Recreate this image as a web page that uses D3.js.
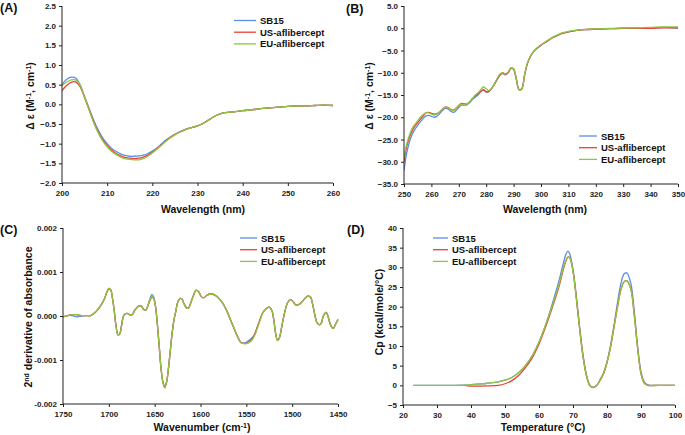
<!DOCTYPE html>
<html><head><meta charset="utf-8">
<script src="https://cdn.jsdelivr.net/npm/d3@7"></script>
<style>
body{margin:0;background:#fff;}
svg{display:block;font-family:"Liberation Sans",Arial,sans-serif;}
.tick text{font-size:8px;font-weight:bold;fill:#222;}
.ttl{font-size:10.5px;font-weight:bold;fill:#111;}
.lab{font-size:12.5px;font-weight:bold;fill:#111;}
.leg{font-size:9.5px;font-weight:bold;fill:#111;}
</style></head><body>
<svg id="c" width="685" height="435"></svg>
<script>
const seriesNames = ["SB15","US-aflibercept","EU-aflibercept"];
const colors = ["#5b8ee6","#e8412f","#8fc641"];

// Panel A: far-UV CD
const A_x = [200,201,202,203,204,205,206,207,208,209,210,211,212,213,214,215,216,217,218,219,220,221,222,223,224,225,226,227,228,229,230,231,232,233,234,235,236,237,238,240,242,244,246,248,250,252,254,256,258,260];
const A_sb15 = [0.50,0.63,0.69,0.67,0.50,0.20,-0.10,-0.40,-0.65,-0.85,-1.00,-1.12,-1.20,-1.26,-1.30,-1.32,-1.32,-1.31,-1.29,-1.25,-1.19,-1.11,-1.01,-0.91,-0.83,-0.76,-0.70,-0.65,-0.61,-0.58,-0.55,-0.50,-0.43,-0.36,-0.29,-0.24,-0.21,-0.20,-0.19,-0.16,-0.14,-0.11,-0.09,-0.07,-0.05,-0.04,-0.04,-0.03,-0.02,-0.03];
const A_us = [0.35,0.48,0.56,0.57,0.45,0.17,-0.13,-0.44,-0.70,-0.90,-1.05,-1.17,-1.25,-1.31,-1.35,-1.37,-1.38,-1.37,-1.34,-1.29,-1.22,-1.13,-1.03,-0.93,-0.84,-0.77,-0.71,-0.66,-0.61,-0.58,-0.55,-0.50,-0.43,-0.36,-0.29,-0.24,-0.21,-0.20,-0.19,-0.16,-0.14,-0.11,-0.09,-0.07,-0.05,-0.04,-0.04,-0.03,-0.02,-0.03];
const A_eu = [0.48,0.56,0.62,0.62,0.48,0.18,-0.14,-0.46,-0.72,-0.93,-1.08,-1.20,-1.28,-1.34,-1.38,-1.40,-1.41,-1.41,-1.38,-1.32,-1.24,-1.14,-1.04,-0.94,-0.85,-0.78,-0.71,-0.66,-0.62,-0.58,-0.55,-0.50,-0.43,-0.36,-0.29,-0.24,-0.21,-0.20,-0.19,-0.16,-0.14,-0.11,-0.09,-0.07,-0.05,-0.04,-0.04,-0.03,-0.02,-0.03];
const A_yticks = [2.5,2.0,1.5,1.0,0.5,0.0,-0.5,-1.0,-1.5,-2.0];
const A_xticks = [200,210,220,230,240,250,260];

// Panel B: near-UV CD
const B_x = [250,251,252,253,254,255,256,257,258,259,260,261,262,263,264,265,266,267,268,269,270,271,272,273,274,275,276,277,278,279,280,281,282,283,284,285,286,287,288,289,290,291,292,293,294,295,296,297,298,300,302,304,306,308,310,313,316,320,325,330,335,340,345,350];
const B_sb15 = [-32,-28,-25.5,-23.8,-22.7,-21.8,-21,-20.3,-19.7,-19.6,-19.8,-20,-19.8,-19.2,-18.5,-18,-18.1,-18.6,-18.9,-18.5,-17.8,-17.3,-17.3,-17.2,-16.7,-16,-15.5,-15,-14.2,-13.8,-14.3,-14.2,-13.5,-12.5,-11.5,-10.5,-10.2,-10.5,-10,-9,-9.2,-11.5,-13.8,-13.5,-10.5,-8,-6.5,-5.5,-4.8,-3.8,-3,-2.2,-1.6,-1.1,-0.8,-0.5,-0.3,-0.2,-0.1,0,0,0.1,0.2,0];
const B_us = [-30,-26.5,-24.5,-23,-22,-21.2,-20.4,-19.7,-19,-18.9,-19.1,-19.3,-19.2,-18.8,-18.2,-17.7,-17.8,-18.2,-18.4,-18,-17.3,-16.9,-17,-17,-16.5,-15.8,-15.2,-14.8,-14.2,-13.9,-14.3,-14.2,-13.5,-12.6,-11.5,-10.5,-10,-10.3,-10,-9,-9.2,-11.5,-13.8,-13.6,-10.6,-8,-6.5,-5.5,-4.8,-3.8,-3,-2.2,-1.6,-1.1,-0.8,-0.5,-0.3,-0.2,-0.1,0,0,0,0.1,0.1];
const B_eu = [-29,-26,-24,-22.5,-21.6,-20.8,-20,-19.4,-19,-19,-19.3,-19.5,-19.3,-18.8,-18.2,-17.8,-17.9,-18.3,-18.5,-18,-17.3,-17,-17.2,-17,-16.5,-15.8,-15,-14.5,-13.8,-13.2,-13.6,-14,-13.5,-12.5,-11.3,-10.3,-10,-10.2,-9.8,-8.9,-9.1,-11.3,-13.9,-13.7,-10.5,-7.9,-6.4,-5.4,-4.7,-3.7,-2.9,-2.1,-1.5,-1.0,-0.7,-0.45,-0.25,-0.15,-0.05,0.05,0.1,0.2,0.3,0.3];
const B_yticks = [5,0,-5,-10,-15,-20,-25,-30,-35];
const B_xticks = [250,260,270,280,290,300,310,320,330,340,350];

// Panel C: FTIR 2nd derivative
const C_x = [1750,1745,1740,1735,1730,1725,1720,1715,1710,1705,1702,1700,1698,1696,1694,1692,1690,1688,1686,1684,1682,1680,1678,1676,1674,1672,1668,1665,1662,1660,1658,1655,1653,1651,1649,1647,1645,1643,1641,1639,1637,1635,1633,1631,1629,1627,1625,1622,1620,1618,1615,1613,1611,1608,1605,1602,1600,1598,1596,1593,1590,1587,1584,1580,1576,1572,1568,1564,1560,1556,1553,1550,1547,1544,1541,1538,1535,1532,1528,1525,1522,1520,1518,1516,1514,1511,1508,1505,1502,1499,1496,1492,1489,1486,1483,1480,1478,1475,1473,1470,1468,1466,1463,1461,1459,1457,1455,1453,1450];
const C_sb15 = [-0.00002,0.00001,0.00001,-0.00002,0.00000,0.00001,0.00001,0.00008,0.0002,0.00038,0.00055,0.00062,0.0006,0.0004,0.0001,-0.00025,-0.00043,-0.0004,-0.0002,0,0.00005,0.00006,0.00004,0.00002,0.00004,0.00012,0.00022,0.00023,0.00015,0.00013,0.0002,0.0004,0.00049,0.00043,0.00022,-0.0002,-0.0007,-0.0012,-0.0015,-0.0016,-0.0015,-0.0012,-0.0008,-0.0004,-0.0001,0.0001,0.0003,0.0004,0.00038,0.00028,0.00018,0.00018,0.00028,0.00045,0.00058,0.00055,0.00047,0.00042,0.00042,0.00047,0.0005,0.0005,0.00047,0.0004,0.0003,0.00015,-0.00005,-0.00025,-0.00045,-0.0006,-0.00062,-0.0006,-0.00055,-0.0005,-0.00042,-0.00025,-0.00008,0.00008,0.00017,0.0002,0.00012,-0.0001,-0.0004,-0.00055,-0.0005,-0.0002,0.0001,0.0003,0.00037,0.00033,0.00025,0.00027,0.00033,0.0004,0.00045,0.00043,0.0003,0.0,-0.00015,-0.0002,-0.00015,0.0,0.00008,0.0,-0.00015,-0.00025,-0.00028,-0.0002,-0.00008];
const C_us = [-0.00002,0.00001,0.00003,0.00003,0.00001,0.00001,0.00001,0.00008,0.0002,0.00038,0.00055,0.00062,0.0006,0.0004,0.0001,-0.00025,-0.00043,-0.0004,-0.0002,0,0.00005,0.00006,0.00004,0.00002,0.00004,0.00012,0.00022,0.00023,0.00015,0.00013,0.0002,0.00036,0.00043,0.00039,0.0002,-0.0002,-0.0007,-0.0012,-0.0015,-0.00163,-0.0015,-0.0012,-0.0008,-0.0004,-0.0001,0.0001,0.0003,0.0004,0.00038,0.00028,0.00018,0.00018,0.00028,0.00045,0.00058,0.00055,0.00047,0.00042,0.00042,0.00047,0.0005,0.0005,0.00047,0.0004,0.0003,0.00015,-0.00005,-0.00025,-0.00045,-0.0006,-0.00062,-0.00062,-0.00058,-0.00052,-0.00042,-0.00025,-0.00008,0.00008,0.00017,0.0002,0.00012,-0.0001,-0.0004,-0.00055,-0.0005,-0.0002,0.0001,0.0003,0.00037,0.00033,0.00025,0.00027,0.00033,0.0004,0.00045,0.00043,0.0003,0.0,-0.00015,-0.0002,-0.00015,0.0,0.00008,0.0,-0.00015,-0.00025,-0.00028,-0.0002,-0.00008];
const C_eu = [-0.00002,0.00001,0.00003,0.00003,0.00001,0.00001,0.00001,0.00008,0.0002,0.00038,0.00055,0.00063,0.0006,0.0004,0.0001,-0.00025,-0.00043,-0.0004,-0.0002,0,0.00005,0.00006,0.00004,0.00002,0.00004,0.00012,0.00022,0.00023,0.00015,0.00013,0.0002,0.00038,0.00045,0.0004,0.0002,-0.0002,-0.0007,-0.0012,-0.0015,-0.00162,-0.0015,-0.0012,-0.0008,-0.0004,-0.0001,0.0001,0.0003,0.0004,0.00038,0.00028,0.00018,0.00018,0.00028,0.00045,0.00059,0.00055,0.00047,0.00042,0.00042,0.00047,0.0005,0.0005,0.00047,0.0004,0.0003,0.00015,-0.00005,-0.00025,-0.00045,-0.0006,-0.00063,-0.00063,-0.0006,-0.00055,-0.00045,-0.00028,-0.0001,0.00007,0.00017,0.0002,0.00012,-0.0001,-0.0004,-0.00056,-0.0005,-0.0002,0.0001,0.0003,0.00037,0.00033,0.00025,0.00027,0.00033,0.0004,0.00045,0.00043,0.0003,0.0,-0.00015,-0.0002,-0.00015,0.0,0.00008,0.0,-0.00015,-0.00025,-0.00028,-0.0002,-0.00008];
const C_yticks = [0.002,0.001,0.000,-0.001,-0.002];
const C_ylabels = ["0.002","0.001","0.000","-0.001","-0.002"];
const C_xticks = [1750,1700,1650,1600,1550,1500,1450];

// Panel D: DSC
const D_x = [23,25,30,35,38,40,43,45,48,50,52,54,56,58,60,62,64,66,67,68,68.5,69,70,71,72,73,74,75,76,77,78,79,80,81,82,83,84,85,85.8,87,88,89,90,91,92,95,100];
const D_sb15 = [0,0,0,0,0.05,0.15,0.35,0.55,0.9,1.3,2.0,3.2,5.0,7.5,11,15.5,21,27,30.5,33.5,34.1,33.5,29.5,22.5,14.5,7.5,2.5,0,-0.5,0,1.5,3.2,6,10,15,20.5,25.5,28.3,28.6,26,19,10,3.5,0.8,0.1,0,0];
const D_us = [null,null,null,null,0,-0.2,-0.2,-0.15,0,0.4,1.2,2.5,4.5,7,10.5,15,20,25.5,29,31.8,32.6,32.5,29,22,14,7,2.3,-0.2,-0.6,0,1.3,3,5.8,9.5,14.5,19.5,24,26.3,26.6,24.5,18,9.5,3,0.5,0,0,0];
const D_eu = [0,0,0,0,0.05,0.15,0.35,0.55,0.9,1.3,2.0,3.2,5.0,7.5,11,15.5,20.5,26,29.5,32,32.6,32.5,29,22,14,7,2.3,-0.1,-0.5,0,1.3,3,5.8,9.5,14.5,19.5,24,26.3,26.6,24.5,18,9.5,3,0.5,0,0,0];
const D_yticks = [40,35,30,25,20,15,10,5,0,-5];
const D_xticks = [20,30,40,50,60,70,80,90,100];

const svg = d3.select("#c");

function panel(cfg){
  const g = svg.append("g");
  const x = d3.scaleLinear().domain(cfg.xdom).range([cfg.x0,cfg.x1]);
  const y = d3.scaleLinear().domain(cfg.ydom).range([cfg.y1,cfg.y0]);
  const line = d3.line().defined(d=>d[1]!==null).x(d=>x(d[0])).y(d=>y(d[1])).curve(d3.curveCatmullRom);
  const clip = "clip"+cfg.id;
  g.append("clipPath").attr("id",clip).append("rect")
    .attr("x",cfg.x0).attr("y",cfg.y0-2).attr("width",cfg.x1-cfg.x0+2).attr("height",cfg.y1-cfg.y0+2);
  cfg.series.forEach((s,i)=>{
    g.append("path").datum(cfg.xs.map((v,j)=>[v,s[j]]))
      .attr("d",line).attr("fill","none").attr("stroke",colors[i])
      .attr("stroke-width",1.3).attr("clip-path","url(#"+clip+")");
  });
  const ya = d3.axisLeft(y).tickValues(cfg.yticks).tickSize(3).tickPadding(3)
    .tickFormat((d,i)=>cfg.ylabels?cfg.ylabels[i]:d3.format(cfg.yfmt)(d));
  const yg = g.append("g").attr("transform",`translate(${cfg.x0},0)`).call(ya);
  const xa = d3.axisBottom(x).tickValues(cfg.xticks).tickSize(3).tickPadding(4).tickFormat(d3.format("d"));
  const xg = g.append("g").attr("transform",`translate(0,${cfg.y1})`).call(xa);
  [yg,xg].forEach(a=>{a.selectAll("path,line").attr("stroke","#222").attr("stroke-width",1);a.select(".domain").attr("d",null);});
  yg.select(".domain").remove(); xg.select(".domain").remove();
  g.append("line").attr("x1",cfg.x0).attr("x2",cfg.x0).attr("y1",cfg.y0).attr("y2",cfg.y1).attr("stroke","#222");
  g.append("line").attr("x1",cfg.x0).attr("x2",cfg.x1).attr("y1",cfg.y1).attr("y2",cfg.y1).attr("stroke","#222");
  // titles
  const xt = g.append("text").attr("class","ttl").attr("text-anchor","middle")
    .attr("x",cfg.xtx).attr("y",cfg.xty);
  cfg.xtitle.forEach(p=>{const t=xt.append("tspan").text(p[0]); if(p[1]) t.attr("baseline-shift","super").style("font-size","7px");});
  const yt = g.append("text").attr("class","ttl").attr("text-anchor","middle")
    .attr("transform",`translate(${cfg.ytx},${cfg.yty}) rotate(-90)`);
  cfg.ytitle.forEach(p=>{const t=yt.append("tspan").text(p[0]); if(p[1]) t.attr("baseline-shift","super").style("font-size","7px");});
  g.append("text").attr("class","lab").attr("x",cfg.lx).attr("y",cfg.ly).text(cfg.label);
  // legend
  seriesNames.forEach((n,i)=>{
    const yy = cfg.legy + i*11.7;
    g.append("line").attr("x1",cfg.legx).attr("x2",cfg.legx+cfg.legw).attr("y1",yy).attr("y2",yy)
      .attr("stroke",colors[i]).attr("stroke-width",1.3);
    g.append("text").attr("class","leg").attr("x",cfg.legx+cfg.legw+4).attr("y",yy+3.5).text(n);
  });
}

panel({id:"A",xdom:[200,260],ydom:[-2,2.5],x0:62,x1:333,y0:6,y1:183,xs:A_x,series:[A_sb15,A_us,A_eu],
  yticks:A_yticks,xticks:A_xticks,yfmt:".1f",label:"(A)",lx:0,ly:12,
  xtitle:[["Wavelength (nm)"]],xtx:203,xty:213,
  ytitle:[["Δ ε (M"],["-1",1],[", cm"],["-1",1],[")"]],ytx:34,yty:96,
  legx:234,legy:20.5,legw:22});
panel({id:"B",xdom:[250,350],ydom:[-35,5],x0:404,x1:678,y0:6,y1:184,xs:B_x,series:[B_sb15,B_us,B_eu],
  yticks:B_yticks,xticks:B_xticks,yfmt:".1f",label:"(B)",lx:346,ly:13,
  xtitle:[["Wavelength (nm)"]],xtx:545,xty:213,
  ytitle:[["Δ ε (M"],["-1",1],[", cm"],["-1",1],[")"]],ytx:373,yty:96,
  legx:579,legy:136,legw:18});
panel({id:"C",xdom:[1750,1450],ydom:[-0.002,0.002],x0:63,x1:338,y0:228,y1:404,xs:C_x,series:[C_sb15,C_us,C_eu],
  yticks:C_yticks,ylabels:C_ylabels,xticks:C_xticks,label:"(C)",lx:0,ly:234,
  xtitle:[["Wavenumber (cm"],["-1",1],[")"]],xtx:202,xty:431,
  ytitle:[["2"],["nd",1],[" derivative of absorbance"]],ytx:32,yty:317,
  legx:240,legy:238,legw:17});
panel({id:"D",xdom:[20,100],ydom:[-5,40],x0:403,x1:675,y0:228,y1:405,xs:D_x,series:[D_sb15,D_us,D_eu],
  yticks:D_yticks,xticks:D_xticks,yfmt:"d",label:"(D)",lx:347,ly:234,
  xtitle:[["Temperature (°C)"]],xtx:543,xty:431,
  ytitle:[["Cp (kcal/mole/°C)"]],ytx:383,yty:312,
  legx:433,legy:238,legw:15});
</script></body></html>
